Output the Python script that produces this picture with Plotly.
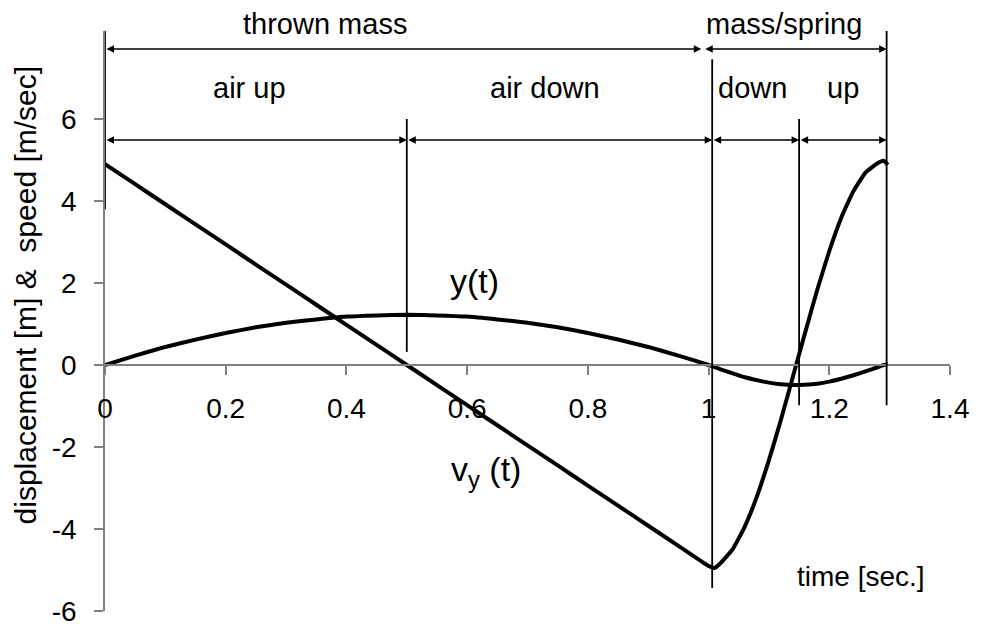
import plotly.graph_objects as go

# time samples [s]
t = [0.0, 0.05, 0.1, 0.15, 0.2, 0.25, 0.3, 0.35, 0.4, 0.45, 0.5,
     0.55, 0.6, 0.65, 0.7, 0.75, 0.8, 0.85, 0.9, 0.95, 1.0,
     1.01, 1.02, 1.04, 1.06, 1.08, 1.1, 1.12, 1.14, 1.16, 1.18, 1.2,
     1.22, 1.24, 1.26, 1.28, 1.29, 1.297]

# displacement y(t) [m]
y_disp = [0.0, 0.23, 0.44, 0.62, 0.78, 0.92, 1.03, 1.11, 1.18, 1.21, 1.225,
          1.21, 1.18, 1.11, 1.03, 0.92, 0.78, 0.62, 0.44, 0.23, 0.0,
          -0.05, -0.105, -0.205, -0.30, -0.37, -0.43, -0.47, -0.49, -0.48, -0.455, -0.405,
          -0.335, -0.25, -0.155, -0.055, 0.0, 0.01]

# vertical speed v_y(t) [m/s]
v_speed = [4.9, 4.41, 3.92, 3.43, 2.94, 2.45, 1.96, 1.47, 0.98, 0.49, 0.0,
           -0.49, -0.98, -1.47, -1.96, -2.45, -2.94, -3.43, -3.92, -4.41, -4.9,
           -4.95, -4.83, -4.49, -3.94, -3.21, -2.32, -1.33, -0.27, 0.79, 1.83, 2.78,
           3.60, 4.24, 4.69, 4.92, 4.98, 4.88]

x_ticks = [0, 0.2, 0.4, 0.6, 0.8, 1.0, 1.2, 1.4]
x_ticktext = ["0", "0.2", "0.4", "0.6", "0.8", "1", "1.2", "1.4"]
y_ticks = [-6, -4, -2, 0, 2, 4, 6]
y_ticktext = ["-6", "-4", "-2", "0", "2", "4", "6"]

# phase boundaries [s]
t_start, t_apex, t_land, t_bottom, t_end = 0.0, 0.5, 1.006, 1.15, 1.295
t_split = 0.988

# phase labels inside the plot: (text, time, level)
phase_labels = [("air up", 0.240, 6.76), ("air down", 0.729, 6.76),
                ("down", 1.072, 6.76), ("up", 1.222, 6.76)]
# stage labels above the plot: (text, time)
stage_labels = [("thrown mass", 0.364), ("mass/spring", 1.125)]

FONT = "Liberation Sans, Arial, sans-serif"
Y_MIN, Y_MAX = -6, 8.146

fig = go.Figure()
for vals in (y_disp, v_speed):
    fig.add_trace(go.Scatter(x=t, y=vals, mode="lines",
                             line=dict(color="black", width=4, shape="spline", smoothing=0.4),
                             showlegend=False, hoverinfo="skip"))

# phase boundary lines
boundaries = [(t_start, 3.8, Y_MAX), (t_apex, 0.32, 6.0), (t_land, -5.44, 7.46),
              (t_bottom, -0.98, 6.0), (t_end, -0.98, Y_MAX)]
for xb, y0, y1 in boundaries:
    fig.add_shape(type="line", x0=xb, x1=xb, y0=y0, y1=y1, xref="x", yref="y",
                  line=dict(color="black", width=1.8))

# double-headed span arrows
spans = [(t_start, t_split, 7.71), (t_split + 0.004, t_end, 7.71),
         (t_start, t_apex, 5.49), (t_apex, t_land, 5.49),
         (t_land, t_bottom, 5.49), (t_bottom, t_end, 5.49)]
for a, b, lvl in spans:
    fig.add_annotation(x=b, y=lvl, ax=a, ay=lvl, xref="x", yref="y", axref="x", ayref="y",
                       text="", showarrow=True, arrowhead=2, startarrowhead=2,
                       arrowside="end+start", arrowsize=1, startarrowsize=1,
                       arrowwidth=1.5, arrowcolor="black", standoff=0, startstandoff=0)

for txt, xt, yt in phase_labels:
    fig.add_annotation(x=xt, y=yt, xref="x", yref="y", text=txt, showarrow=False,
                       font=dict(family=FONT, size=29, color="black"))
for txt, xt in stage_labels:
    fig.add_annotation(x=xt, y=1.012, xref="x", yref="paper", text=txt, showarrow=False,
                       yanchor="middle", font=dict(family=FONT, size=29, color="black"))

# curve labels
fig.add_annotation(x=0.612, y=2.05, xref="x", yref="y", text="y(t)", showarrow=False,
                   font=dict(family=FONT, size=34, color="black"))
fig.add_annotation(x=0.632, y=-2.6, xref="x", yref="y", text="v<sub>y</sub> (t)", showarrow=False,
                   font=dict(family=FONT, size=34, color="black"))
fig.add_annotation(x=1.252, y=-5.17, xref="x", yref="y", text="time [sec.]", showarrow=False,
                   font=dict(family=FONT, size=28, color="black"))
fig.add_annotation(x=-0.094, y=1.71, xref="paper", yref="y", textangle=-90,
                   xanchor="center", yanchor="middle",
                   text="displacement [m] &amp;  speed [m/sec]", showarrow=False,
                   font=dict(family=FONT, size=30, color="black"))

fig.update_layout(
    width=983, height=626,
    margin=dict(l=105, r=33, t=31, b=15),
    paper_bgcolor="white", plot_bgcolor="white",
    font=dict(family=FONT, size=28, color="black"),
    xaxis=dict(range=[0, 1.4], tickvals=x_ticks, ticktext=x_ticktext,
               showgrid=False, zeroline=False, showline=True, linecolor="#808080",
               linewidth=1.5, ticks="outside", ticklen=9, tickcolor="#808080",
               tickwidth=1.5, anchor="free", position=(0 - Y_MIN) / (Y_MAX - Y_MIN),
               ticklabelstandoff=10, automargin=False, tickfont=dict(size=28)),
    yaxis=dict(range=[Y_MIN, Y_MAX], tickvals=y_ticks, ticktext=y_ticktext,
               showgrid=False, zeroline=False, showline=True, linecolor="#808080",
               linewidth=1.5, ticks="outside", ticklen=9, tickcolor="#808080",
               tickwidth=1.5, ticklabelstandoff=12, ticklabeloverflow="allow",
               automargin=False, tickfont=dict(size=28)),
)

fig.write_html("out.html")
